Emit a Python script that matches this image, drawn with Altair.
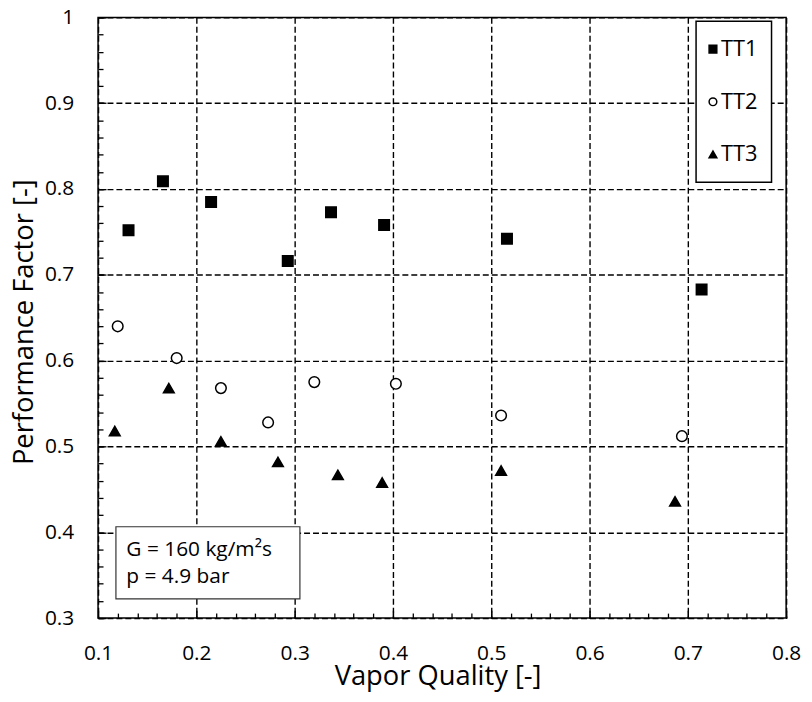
import altair as alt
import pandas as pd

# ---- data ----
series_names = ["TT1", "TT2", "TT3"]
tt1_x = [0.131, 0.166, 0.215, 0.293, 0.337, 0.391, 0.516, 0.714]
tt1_y = [0.752, 0.809, 0.785, 0.716, 0.773, 0.758, 0.742, 0.683]
tt2_x = [0.120, 0.180, 0.225, 0.273, 0.320, 0.403, 0.510, 0.694]
tt2_y = [0.640, 0.603, 0.568, 0.528, 0.575, 0.573, 0.536, 0.512]
tt3_x = [0.117, 0.172, 0.225, 0.283, 0.344, 0.389, 0.510, 0.687]
tt3_y = [0.518, 0.568, 0.506, 0.482, 0.467, 0.458, 0.472, 0.436]

x_ticks = [0.1, 0.2, 0.3, 0.4, 0.5, 0.6, 0.7, 0.8]
y_ticks = [0.3, 0.4, 0.5, 0.6, 0.7, 0.8, 0.9, 1.0]
x_minor = [round(0.1 + 0.02 * i, 2) for i in range(36)]
y_minor = [round(0.3 + 0.02 * i, 2) for i in range(36)]

x_title = "Vapor Quality [-]"
y_title = "Performance Factor [-]"
annotation_lines = ["G = 160 kg/m²s", "p = 4.9 bar"]

shapes = ["square", "circle", "triangle-up"]
fills = ["black", "white", "black"]
sizes = [112, 117, 135]

rows = []
for name, xs, ys in zip(series_names, [tt1_x, tt2_x, tt3_x], [tt1_y, tt2_y, tt3_y]):
    for xv, yv in zip(xs, ys):
        rows.append({"series": name, "x": xv, "y": yv})
df = pd.DataFrame(rows)
legend_df = pd.DataFrame({"series": series_names, "row": [0, 1, 2]})

W, H = 693, 605
FONT = "Open Sans"
xscale = alt.Scale(domain=[0.1, 0.8], nice=False, zero=False)
yscale = alt.Scale(domain=[0.3, 1.0], nice=False, zero=False)
shape_scale = alt.Scale(domain=series_names, range=shapes)
fill_scale = alt.Scale(domain=series_names, range=fills)

base = alt.Chart(df)

points = base.mark_point(filled=True, stroke="black", strokeWidth=1.5, opacity=1).encode(
    x=alt.X("x:Q", scale=xscale, axis=alt.Axis(
        orient="bottom", values=x_ticks, format="~g", grid=True, ticks=False, tickSize=0,
        domain=False, labelPadding=25, labelFlush=False, title=x_title,
        titleX=342, titleY=67, titleBaseline="alphabetic", titleAlign="center")),
    y=alt.Y("y:Q", scale=yscale, axis=alt.Axis(
        orient="left", values=y_ticks, format="~g", grid=True, ticks=False, tickSize=0,
        domain=False, labelPadding=24.5, labelFlush=False, title=y_title,
        titleAngle=270, titleX=-66, titleY=306.5, titleBaseline="alphabetic", titleAlign="center")),
    shape=alt.Shape("series:N", scale=shape_scale, legend=None),
    fill=alt.Fill("series:N", scale=fill_scale, legend=None),
    size=alt.Size("series:N", scale=alt.Scale(domain=series_names, range=sizes), legend=None),
)


def x_tick_layer(values, length):
    return base.mark_point(opacity=0).encode(
        x=alt.X("x:Q", scale=xscale, axis=alt.Axis(
            orient="top", offset=-H, values=values, labels=False, domain=False, grid=False,
            ticks=True, tickSize=length, tickWidth=1.3, title=None)),
        y=alt.Y("y:Q", scale=yscale, axis=None),
    )


def y_tick_layer(values, length):
    return base.mark_point(opacity=0).encode(
        x=alt.X("x:Q", scale=xscale, axis=None),
        y=alt.Y("y:Q", scale=yscale, axis=alt.Axis(
            orient="right", offset=-W, values=values, labels=False, domain=False, grid=False,
            ticks=True, tickSize=length, tickWidth=1.3, title=None)),
    )


one = alt.Chart(pd.DataFrame({"a": [0]}))
box = one.mark_rect(fill="white", stroke="#333333", strokeWidth=1.2).encode(
    x=alt.value(18), x2=alt.value(203.3), y=alt.value(513), y2=alt.value(585.7)
)
txt1 = one.mark_text(align="left", baseline="alphabetic", font=FONT, fontSize=21, color="black").encode(
    x=alt.value(28.5), y=alt.value(542.3), text=alt.value(annotation_lines[0])
)
txt2 = one.mark_text(align="left", baseline="alphabetic", font=FONT, fontSize=21, color="black").encode(
    x=alt.value(28.5), y=alt.value(570), text=alt.value(annotation_lines[1])
)

# legend drawn inside the plot (top right), from the same shape/fill scales
leg = alt.Chart(legend_df).transform_calculate(py="32 + 53 * datum.row")
leg_box = one.mark_rect(fill="white", stroke="black", strokeWidth=1.5).encode(
    x=alt.value(602.3), x2=alt.value(678.3), y=alt.value(4), y2=alt.value(166)
)
leg_sym = leg.mark_point(filled=True, stroke="black", strokeWidth=1.5, opacity=1, size=60).encode(
    x=alt.value(619.3),
    y=alt.Y("py:Q", scale=None, axis=None),
    shape=alt.Shape("series:N", scale=shape_scale, legend=None),
    fill=alt.Fill("series:N", scale=fill_scale, legend=None),
)
leg_txt = leg.mark_text(align="left", baseline="middle", font=FONT, fontSize=22, color="black").encode(
    x=alt.value(627.3),
    y=alt.Y("py:Q", scale=None, axis=None),
    text="series:N",
)

chart = alt.layer(
    x_tick_layer(x_minor, 5),
    x_tick_layer(x_ticks, 8),
    y_tick_layer(y_minor, 5),
    y_tick_layer(y_ticks, 8),
    box, txt1, txt2,
    points,
    leg_box, leg_sym, leg_txt,
).resolve_axis(
    x="independent", y="independent"
).properties(
    width=W, height=H,
    autosize=alt.AutoSizeParams(type="none"),
    padding={"left": 90.7, "top": 7, "right": 18, "bottom": 74},
).configure(
    font=FONT,
).configure_view(
    stroke="black", strokeWidth=1.5,
).configure_axis(
    gridColor="black", gridDash=[6, 3], gridWidth=1.4, gridOpacity=1,
    labelColor="black", labelFont=FONT, labelFontSize=21,
    titleFont=FONT, titleFontSize=27.5, titleFontWeight="normal", titleColor="black",
    tickColor="black",
)

chart.save("out.html", embed_options={"renderer": "svg", "actions": False})
